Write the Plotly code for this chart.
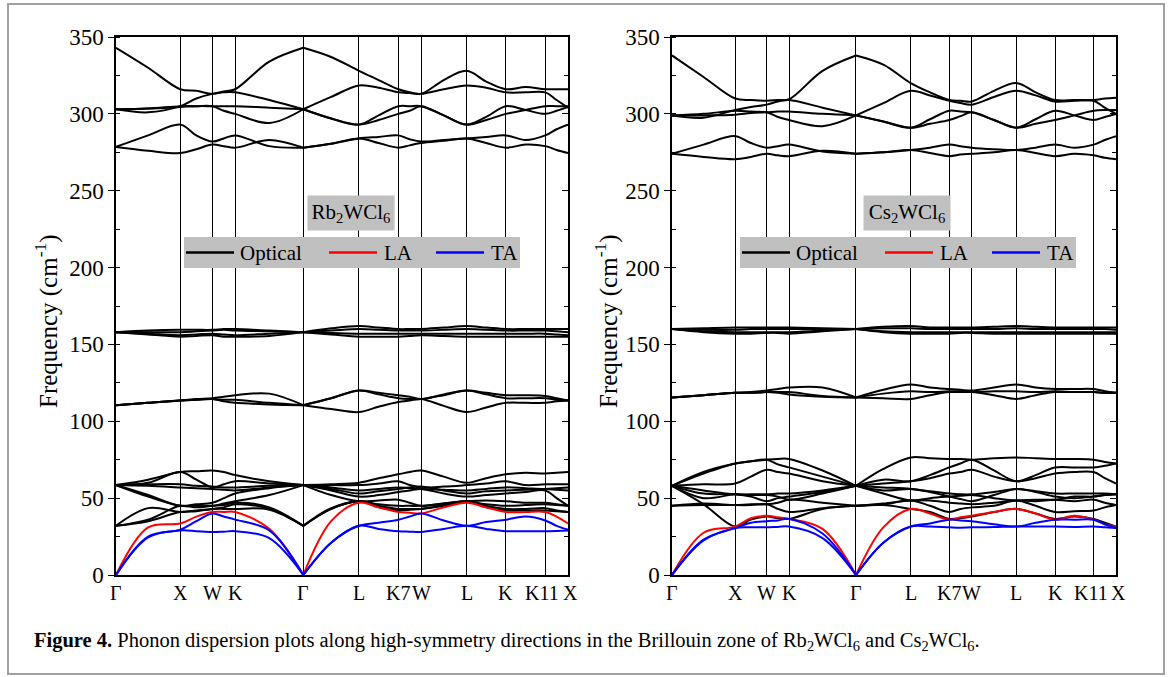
import plotly.graph_objects as go

# ---------------- data ----------------
# high-symmetry path positions and labels
kpos = [0, 1.0, 1.5, 1.854, 2.914, 3.780, 4.392, 4.746, 5.453, 6.066, 6.678, 7.032]
klabels = ["Γ", "X", "W", "K", "Γ", "L", "K7", "W", "L", "K", "K11", "X"]
yticks = [0, 50, 100, 150, 200, 250, 300, 350]

# band values at: Γ m X m W m K m Γ m L m K7 m W m L m K m K11 m X  (m = mid-segment)
# ---- Rb2WCl6 ----
rb_T1 = [343, 330, 316, 315, 313, 314.5, 316, 334, 343, 337, 328, 322, 316, 314, 313, 322, 328, 321, 316, 317.5, 316, 316, 316]
rb_T2 = [303, 301, 305, 310, 313, 314, 314, 309, 303, 311, 318.5, 317, 314, 313.5, 313, 316, 318.5, 317, 314, 314, 314, 309, 304]
rb_T3 = [303, 303.5, 304.5, 305, 305, 305, 305, 304, 303, 297, 293, 299, 305, 305, 305, 299, 293, 298, 305, 302.5, 300, 302, 304.5]
rb_T4 = [303, 303.5, 305, 305, 305, 302, 300, 294, 303, 297, 293, 296, 300, 302, 305, 299, 293, 296, 300, 302.5, 305, 305, 305]
rb_T5 = [278.5, 286, 293, 286, 282, 284, 286, 279, 278, 280.5, 284, 285, 286, 283.5, 282, 283, 284, 285, 286, 283, 286, 290, 293]
rb_T6 = [278.5, 276, 274.5, 277, 280, 279, 278, 283, 278, 280.5, 284, 281, 278, 279.5, 281, 282.5, 284, 281, 278, 280, 279, 276.5, 274.5]
rb_M1 = [158, 159, 159.5, 159.5, 159.5, 160, 160, 159, 158, 160.5, 162, 161, 160, 160, 160, 161, 162, 161, 160, 160, 160, 160, 160]
rb_M2 = [158, 158, 158, 158.5, 159, 159.5, 159, 158.5, 158, 159, 160, 159.5, 159, 159, 159, 159.5, 160, 159.5, 159, 159, 159, 158.5, 158]
rb_M3 = [158, 157, 156, 156.5, 157, 156.5, 156, 157, 158, 157.5, 157, 157, 157, 157, 157, 157, 157, 157, 157, 157, 157, 156.5, 156]
rb_M4 = [158, 156.5, 155, 155.5, 156, 155, 155, 155.5, 158, 156.5, 155, 155, 155, 155.5, 156, 155.5, 155, 155, 155, 155, 155, 155, 155]
rb_L1 = [110.5, 112, 113.5, 114.5, 115, 116, 117, 118, 110.5, 115, 120, 118.5, 117, 116, 114.5, 117.5, 120, 118.5, 117, 117, 116.5, 115, 113.5]
rb_L2 = [110.5, 112, 113.5, 114, 114.5, 114, 114, 112, 110.5, 108, 106, 109.5, 112.5, 113.5, 114.5, 110, 106, 109, 112, 112, 112, 113, 113.5]
rb_L3 = [110.5, 112, 113.5, 114, 114.5, 113, 112, 111, 110.5, 115, 120, 117.5, 115, 114.5, 114.5, 117, 120, 117.5, 115, 115, 115, 114, 113.5]
rb_O1 = [58.5, 62, 67, 67.5, 68, 67, 65, 61, 58.5, 59, 60, 63, 65.5, 67, 68, 64, 60, 63, 65.5, 66.5, 66, 66.5, 67]
rb_O2 = [58.5, 60, 67, 62, 57, 59, 61, 59.5, 58.5, 58.5, 58.5, 59.5, 61, 58.5, 57, 57.5, 58.5, 59.5, 61, 58.5, 59, 59, 59]
rb_O3 = [58.5, 59, 59, 58, 57.5, 57, 57, 58, 58.5, 57, 55, 56, 57, 56.5, 56, 55.5, 55, 56, 57, 56.5, 56, 56.5, 57]
rb_O4 = [58.5, 58, 57, 56.5, 56, 55.5, 55, 57, 58.5, 56, 53, 54.5, 56, 57, 57.5, 55, 53, 54.5, 55, 55.5, 56, 55.5, 55]
rb_O5 = [58.5, 52, 45, 46, 47, 50, 53, 56.5, 58.5, 55, 51, 52, 54, 55, 56, 53, 51, 52, 53, 54, 55, 50, 45]
rb_O6 = [58.5, 51, 45, 45, 45, 46.5, 48, 52, 58.5, 52, 48, 48.5, 49, 47, 45, 46.5, 48, 48.5, 48, 47, 47, 46, 45]
rb_O7 = [32, 43.5, 41, 42, 43, 44, 46, 43, 32, 43, 48, 45, 43, 43, 43, 45.5, 48, 45, 43, 43, 43.5, 42, 41]
rb_O8 = [32, 36, 45, 44, 45, 45.5, 47, 44, 32, 43.5, 48, 46, 45, 45, 45, 46.5, 48, 46, 45, 45.5, 46, 45.5, 45]
rb_O9 = [32, 35, 41, 41.5, 43, 43, 43, 42.5, 32, 43, 48, 44, 42, 42.5, 43, 45, 48, 44, 42, 42, 42, 41.5, 41]
rb_LA = [0, 31, 33.5, 38, 41, 41, 41, 30, 0, 35, 47, 44, 41, 40.5, 40, 44, 47, 44, 41, 41, 41, 38, 33.5]
rb_TA1 = [0, 25, 29.5, 35, 40, 38, 36, 29, 0, 21, 32, 34, 36, 38, 40, 35.5, 32, 34.5, 36, 38, 35.5, 32, 29.5]
rb_TA2 = [0, 24.5, 29, 28.5, 28, 28.2, 28.5, 24, 0, 21, 32, 30, 28.5, 28.2, 28, 30, 32, 30, 28.5, 28.5, 28.5, 28.7, 29]

# ---- Cs2WCl6 ----
cs_T1 = [338, 324, 310, 309, 308.5, 309, 309.5, 328, 338, 332, 320, 314, 309, 308.5, 308, 315, 320, 314, 309, 309, 309, 310, 310.5]
cs_T2 = [299, 297.5, 302.5, 304.5, 306, 308, 309, 304, 299, 307, 315, 312, 308.5, 307, 306, 311, 315, 312, 308, 308.5, 308.5, 304, 300]
cs_T3 = [299, 299, 299.5, 300.5, 301, 301.5, 301.5, 300, 299, 295, 291, 296.5, 302, 301.5, 301, 296, 291, 296.5, 302, 299, 296, 298, 300]
cs_T4 = [299, 300, 302, 301.5, 301, 298, 296, 292, 299, 295, 291, 293.5, 296, 298.5, 301, 296, 291, 293.5, 296, 299, 302, 302.5, 302.5]
cs_T5 = [274, 280, 285.5, 281, 278, 279, 280, 275.5, 274, 275, 276.5, 278, 280, 279, 278, 277, 276.5, 278, 280, 278, 280, 283, 285.5]
cs_T6 = [274, 272, 270.5, 272, 274, 273, 272.5, 276, 274, 275, 276.5, 274.5, 272.5, 273.5, 274, 275, 276.5, 274.5, 272.5, 274, 273, 271.5, 270.5]
cs_M1 = [160, 160.5, 161, 161, 161, 161, 161, 160.5, 160, 161.5, 162, 161, 161, 161, 161, 161.5, 162, 161.5, 161, 161, 161, 161, 161]
cs_M2 = [160, 159.5, 159.5, 160, 160, 160, 160, 160, 160, 160.5, 160.5, 160, 160, 160, 160, 160, 160.5, 160, 160, 160, 160, 160, 159.5]
cs_M3 = [160, 158.5, 158, 158, 158, 158, 158, 159, 160, 158.5, 158, 158, 158, 158, 158, 158, 158, 158, 158, 158, 158, 158, 158]
cs_M4 = [160, 158, 157, 157, 157.5, 157.5, 157, 158.5, 160, 158, 157, 157, 157, 157.5, 157.5, 157, 157, 157, 157, 157, 157, 157, 157]
cs_L1 = [115.5, 117, 118.5, 119, 120, 121, 122, 122, 115.5, 120.5, 124, 122, 121, 120.5, 120, 122, 124, 122, 121, 121, 121, 119.5, 118.5]
cs_L2 = [115.5, 117, 118.5, 118.5, 119, 119, 119, 116.5, 115.5, 115, 114.5, 117, 119, 119, 119, 117, 114.5, 117, 119, 119, 119, 118.5, 118.5]
cs_L3 = [115.5, 117, 118.5, 118.5, 119, 118.5, 117.5, 116, 115.5, 118, 119.5, 119, 119.5, 119.5, 119, 119.5, 119.5, 119, 119.5, 119, 119, 118.5, 118.5]
cs_O1 = [58, 67, 72.5, 74, 75, 75.5, 75.5, 68, 58, 69, 76.5, 76, 75.5, 75.5, 75, 76, 76.5, 76, 75.5, 75.5, 75, 73.5, 72.5]
cs_O2 = [58, 66, 72.5, 74, 75, 72, 70, 64, 58, 62, 61, 65, 70, 72.5, 75, 68, 61, 65, 70, 70, 70, 71, 72.5]
cs_O3 = [58, 59, 59.5, 64, 68.5, 67, 66, 61, 58, 59.5, 61, 63, 66, 67, 68.5, 64, 61, 63, 66, 67, 67, 63, 59.5]
cs_O4 = [58, 55, 52.5, 52.5, 52.5, 53, 53, 55, 58, 57, 56, 54.5, 53, 52.5, 52.5, 54, 56, 54.5, 53, 53, 53, 53, 52.5]
cs_O5 = [58, 50, 52.5, 52, 52, 51, 49, 53, 58, 53, 48.5, 50, 51, 51.5, 52, 50, 48.5, 49, 49, 51, 51, 52, 52.5]
cs_O6 = [58, 46, 31.5, 36, 38, 37, 36.5, 43, 45, 45.5, 43, 41, 36.5, 37, 38, 41, 43, 40, 36.5, 38, 36.5, 34, 31.5]
cs_O7 = [45, 46.5, 45.5, 45.5, 46, 43, 41, 43.5, 45, 46, 48.5, 45, 41, 43, 44, 45, 48.5, 45, 41, 41.5, 42, 44, 45.5]
cs_O8 = [45, 45.5, 45.5, 46, 46, 47, 49, 47, 45, 46.5, 48.5, 48.5, 47, 46.5, 46, 47, 48.5, 48, 49, 48, 49, 47, 45.5]
cs_O9 = [58, 53, 52.5, 51, 48, 50, 51, 54, 58, 55, 56, 54, 51, 49.5, 48, 52, 56, 54, 51, 50, 51, 52, 52.5]
cs_LA = [0, 27.5, 31.5, 37, 38.5, 37.5, 36.5, 30, 0, 31, 43, 40, 36, 37.5, 38.5, 41, 43, 40, 36, 38.5, 36, 33, 31.5]
cs_TA1 = [0, 23, 30.5, 34, 35, 35.5, 36.5, 27, 0, 21, 31.5, 33.5, 36, 35.5, 35, 33, 31.5, 34, 36, 36, 36, 33, 30.5]
cs_TA2 = [0, 22.5, 30.5, 31, 31, 31.3, 31.5, 24, 0, 21, 31.5, 31.5, 31, 30.8, 31, 31.2, 31.5, 31.5, 31.5, 31.3, 31.5, 31, 30.5]

rb_optical = [rb_T1, rb_T2, rb_T3, rb_T4, rb_T5, rb_T6, rb_M1, rb_M2, rb_M3, rb_M4,
              rb_L1, rb_L2, rb_L3, rb_O1, rb_O2, rb_O3, rb_O4, rb_O5, rb_O6, rb_O7, rb_O8, rb_O9]
cs_optical = [cs_T1, cs_T2, cs_T3, cs_T4, cs_T5, cs_T6, cs_M1, cs_M2, cs_M3, cs_M4,
              cs_L1, cs_L2, cs_L3, cs_O1, cs_O2, cs_O3, cs_O4, cs_O5, cs_O6, cs_O7, cs_O8, cs_O9]

# ---------------- figure ----------------
W, H = 1171, 677
FONT = "Liberation Serif"

def px(x):
    return x / W

def py(y):
    return 1 - y / H

# k grid: high-symmetry points plus segment midpoints
kx = []
for i in range(len(kpos) - 1):
    kx += [kpos[i], (kpos[i] + kpos[i + 1]) / 2]
kx.append(kpos[-1])
split = 8  # index of the central Γ point


def band_xy(vals):
    xs = kx[:split + 1] + [None] + kx[split:]
    ys = vals[:split + 1] + [None] + vals[split:]
    return xs, ys


fig = go.Figure()

panels = [
    ("x", "y", rb_optical, rb_LA, [rb_TA1, rb_TA2]),
    ("x2", "y2", cs_optical, cs_LA, [cs_TA1, cs_TA2]),
]
for xa, ya, opt, la, tas in panels:
    for b in opt:
        xs, ys = band_xy(b)
        fig.add_trace(go.Scatter(x=xs, y=ys, mode="lines", xaxis=xa, yaxis=ya,
                                 line=dict(color="black", width=2, shape="spline", smoothing=1.0),
                                 showlegend=False, hoverinfo="skip"))
    xs, ys = band_xy(la)
    fig.add_trace(go.Scatter(x=xs, y=ys, mode="lines", xaxis=xa, yaxis=ya,
                             line=dict(color="#ff0000", width=2, shape="spline", smoothing=1.0),
                             showlegend=False, hoverinfo="skip"))
    for b in tas:
        xs, ys = band_xy(b)
        fig.add_trace(go.Scatter(x=xs, y=ys, mode="lines", xaxis=xa, yaxis=ya,
                                 line=dict(color="#0000ff", width=2, shape="spline", smoothing=1.0),
                                 showlegend=False, hoverinfo="skip"))

# empty traces so the right-hand tick axes get drawn
fig.add_trace(go.Scatter(x=[None], y=[None], xaxis="x", yaxis="y3", showlegend=False))
fig.add_trace(go.Scatter(x=[None], y=[None], xaxis="x2", yaxis="y4", showlegend=False))

ydom = [py(575), py(37)]
xdom1 = [px(116), px(568)]
xdom2 = [px(672), px(1116)]

xcommon = dict(range=[kpos[0], kpos[-1]], tickvals=kpos, ticks="", showticklabels=False,
               automargin=False,
               showline=True, mirror=True, linecolor="black", linewidth=1.5,
               showgrid=True, gridcolor="black", gridwidth=1, zeroline=False, fixedrange=True)
yleft = dict(range=[0, 350], tickvals=yticks, ticks="outside", ticklen=6, tickwidth=1.3,
             tickcolor="black", showline=True, mirror=True, linecolor="black", linewidth=1.5,
             showgrid=False, zeroline=False, automargin=False,
             minor=dict(dtick=25, ticks="inside", ticklen=4, tickwidth=1.3, tickcolor="black", showgrid=False),
             tickfont=dict(family=FONT, size=23, color="black"), fixedrange=True)
yright = dict(range=[0, 350], tickvals=yticks, ticks="inside", ticklen=6, tickwidth=1.3,
              tickcolor="black", showline=False, showgrid=False, zeroline=False,
              showticklabels=False, side="right", automargin=False,
              minor=dict(dtick=25, ticks="inside", ticklen=4, tickwidth=1.3, tickcolor="black", showgrid=False),
              fixedrange=True)

fig.update_layout(
    width=W, height=H,
    margin=dict(l=0, r=0, t=0, b=0, autoexpand=False),
    paper_bgcolor="white", plot_bgcolor="white",
    showlegend=False,
    xaxis=dict(domain=xdom1, anchor="y", **xcommon),
    xaxis2=dict(domain=xdom2, anchor="y2", **xcommon),
    yaxis=dict(domain=ydom, anchor="x", **yleft),
    yaxis2=dict(domain=ydom, anchor="x2", **yleft),
    yaxis3=dict(overlaying="y", anchor="x", **yright),
    yaxis4=dict(overlaying="y2", anchor="x2", **yright),
)

shapes = []
annotations = []

# outer frame around the figure and caption
shapes.append(dict(type="rect", xref="paper", yref="paper",
                   x0=px(8), x1=px(1164), y0=py(674), y1=py(4),
                   line=dict(color="#a0a0a0", width=2), fillcolor="rgba(0,0,0,0)", layer="above"))

# k-point labels under each panel (placed on the data axis)
label_shift = {10: -3, 11: 2}
for xa, ya in [("x", "y"), ("x2", "y2")]:
    for i, (kv, lab) in enumerate(zip(kpos, klabels)):
        annotations.append(dict(xref=xa, yref=ya, x=kv, y=0, text=lab, showarrow=False,
                                xanchor="center", yanchor="top", yshift=-5,
                                xshift=label_shift.get(i, 0),
                                font=dict(family=FONT, size=20, color="black")))

for off, name, ycx in [(0, "Rb<sub>2</sub>WCl<sub>6</sub>", 46), (556, "Cs<sub>2</sub>WCl<sub>6</sub>", 606)]:
    # axis title
    annotations.append(dict(xref="paper", yref="paper", x=px(ycx), y=py(321),
                            text="Frequency (cm<sup>-1</sup>)", textangle=-90, showarrow=False,
                            font=dict(family=FONT, size=25, color="black"),
                            xanchor="center", yanchor="middle"))
    # compound label box
    annotations.append(dict(xref="paper", yref="paper", x=px(350.5 + off), y=py(213),
                            text=name, showarrow=False, bgcolor="#c0c0c0",
                            width=82, height=30, borderpad=2,
                            font=dict(family=FONT, size=21, color="black"),
                            xanchor="center", yanchor="middle"))
    # legend box
    lx0 = 182 + off + 2
    shapes.append(dict(type="rect", xref="paper", yref="paper",
                       x0=px(lx0), x1=px(lx0 + 336), y0=py(268), y1=py(237),
                       line=dict(width=0), fillcolor="#c0c0c0", layer="above"))
    items = [("black", "Optical", 2, 52), ("#ff0000", "LA", 145, 196), ("#0000ff", "TA", 252, 303)]
    for col, txt, l0, t0 in items:
        shapes.append(dict(type="line", xref="paper", yref="paper",
                           x0=px(lx0 + l0), x1=px(lx0 + l0 + 48), y0=py(252.5), y1=py(252.5),
                           line=dict(color=col, width=2.5), layer="above"))
        annotations.append(dict(xref="paper", yref="paper", x=px(lx0 + t0 + 2), y=py(253),
                                text=txt, showarrow=False,
                                font=dict(family=FONT, size=21, color="black"),
                                xanchor="left", yanchor="middle"))

# caption
annotations.append(dict(xref="paper", yref="paper", x=px(32), y=py(641),
                        text="<b>Figure 4.</b> Phonon dispersion plots along high-symmetry directions in the "
                             "Brillouin zone of Rb<sub>2</sub>WCl<sub>6</sub> and Cs<sub>2</sub>WCl<sub>6</sub>.",
                        showarrow=False, font=dict(family=FONT, size=20.5, color="black"),
                        xanchor="left", yanchor="middle"))

fig.update_layout(shapes=shapes, annotations=annotations)
fig.write_html("out.html")
